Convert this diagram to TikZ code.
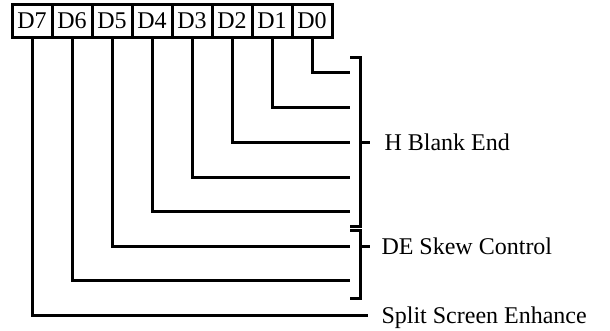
\documentclass[tikz,border=0pt]{standalone}
\usepackage{fontspec}
\setmainfont{Liberation Serif}
\begin{document}
\begin{tikzpicture}[x=1pt,y=-1pt,line width=3pt,
  bit/.style={draw,line width=3pt,minimum width=40pt,minimum height=33pt,inner sep=0pt,font=\fontsize{24}{28}\selectfont},
  lbl/.style={anchor=base west,inner sep=0pt,font=\fontsize{24}{28}\selectfont},
  wire/.style={line width=3pt},
  brace/.style={line width=3pt}]
\useasboundingbox (0,0) rectangle (610,330);
% register bits
\node[bit] (d7) at (32,20.5) {D7};
\node[bit] (d6) at (72,20.5) {D6};
\node[bit] (d5) at (112,20.5) {D5};
\node[bit] (d4) at (152,20.5) {D4};
\node[bit] (d3) at (192,20.5) {D3};
\node[bit] (d2) at (232,20.5) {D2};
\node[bit] (d1) at (272,20.5) {D1};
\node[bit] (d0) at (312,20.5) {D0};
% wire end points
\coordinate (e0) at (350,72);
\coordinate (e1) at (350,107);
\coordinate (e2) at (350,142);
\coordinate (e3) at (350,177);
\coordinate (e4) at (350,211.5);
\coordinate (e5) at (350,246);
\coordinate (e6) at (350,280.5);
\coordinate (e7) at (368,315);
\draw[wire] (d0.south) |- (e0);
\draw[wire] (d1.south) |- (e1);
\draw[wire] (d2.south) |- (e2);
\draw[wire] (d3.south) |- (e3);
\draw[wire] (d4.south) |- (e4);
\draw[wire] (d5.south) |- (e5);
\draw[wire] (d6.south) |- (e6);
\draw[wire] (d7.south) |- (e7);
% brackets
\draw[brace] (350,57) -- (360,57) -- (360,226) -- (350,226);
\draw[brace] (360,142) -- (370,142);
\draw[brace] (350,230) -- (360,230) -- (360,298) -- (350,298);
\draw[brace] (360,246) -- (370,246);
% labels
\node[lbl] (hbe) at (383,150) {H Blank End};
\node[lbl] (dsk) at (380,254) {DE Skew Control};
\node[lbl] (sse) at (380,323) {Split Screen Enhance};
\end{tikzpicture}
\end{document}
